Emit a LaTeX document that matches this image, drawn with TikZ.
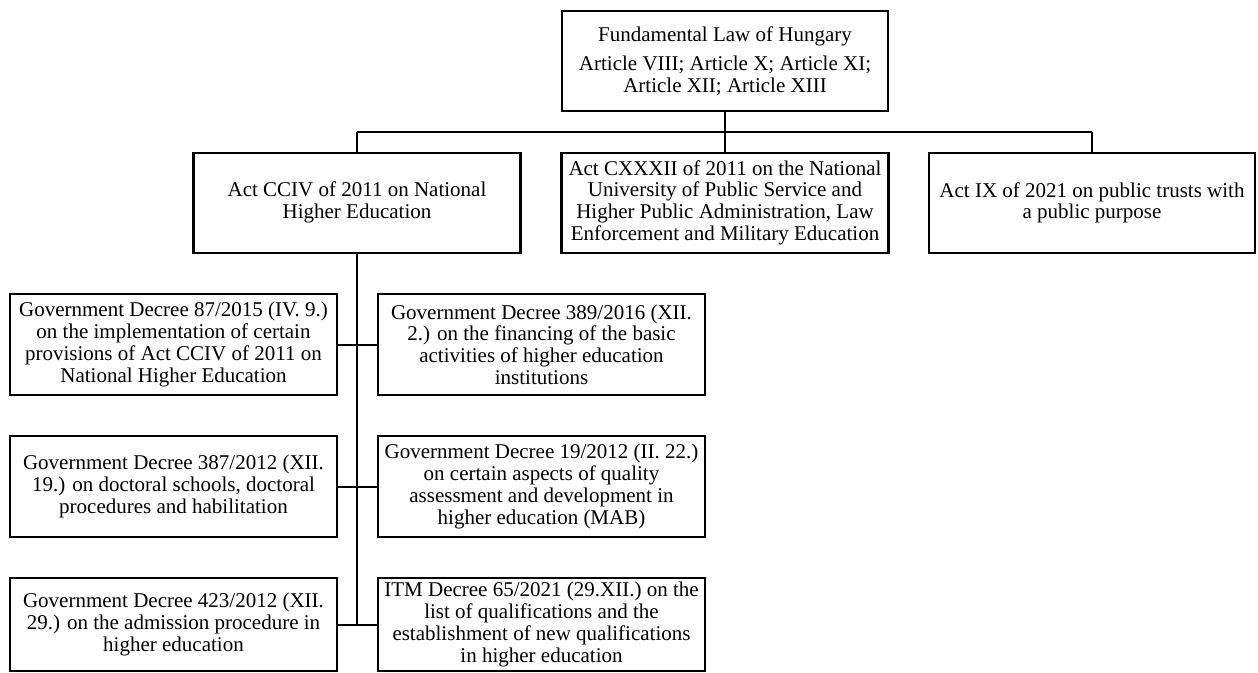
\documentclass[tikz,border=0pt]{standalone}
\usepackage{fontspec}
\setmainfont{Liberation Serif}
\begin{document}
\begin{tikzpicture}[x=1pt,y=-1pt,
  lawbox/.style={draw=black, line width=2.2pt, fill=white, align=center,
    inner sep=0pt, minimum width=327pt, minimum height=100pt,
    font=\fontsize{21}{21.7}\selectfont},
  link/.style={draw=black, line width=2pt}]
\useasboundingbox (0,0) rectangle (1258,672);

% top of the hierarchy
\node[lawbox, minimum width=326pt] (top) at (725,61)
  {Fundamental Law of Hungary\\[8pt]
   Article VIII; Article X; Article XI;\\
   Article XII; Article XIII};

% acts
\node[lawbox] (b1) at (357,202.7)
  {Act CCIV of 2011 on National\\ Higher Education};
\node[lawbox] (b2) at (725,202.7)
  {Act CXXXII of 2011 on the National\\
   University of Public Service and\\
   Higher Public Administration, Law\\
   Enforcement and Military Education};
\node[lawbox, minimum width=326pt] (b3) at (1092,202.7)
  {Act IX of 2021 on public trusts with\\ a public purpose};

% decrees
\node[lawbox, minimum height=101pt] (l1) at (173.5,344.5)
  {Government Decree 87/2015 (IV. 9.)\\
   on the implementation of certain\\
   provisions of Act CCIV of 2011 on\\
   National Higher Education};
\node[lawbox, minimum height=101pt] (r1) at (541.5,344.5)
  {Government Decree 389/2016 (XII.\\
   2.) on the financing of the basic\\
   activities of higher education\\
   institutions};
\node[lawbox, minimum height=101pt] (l2) at (173.5,486.5)
  {Government Decree 387/2012 (XII.\\
   19.) on doctoral schools, doctoral\\
   procedures and habilitation};
\node[lawbox, minimum height=101pt] (r2) at (541.5,486.5)
  {Government Decree 19/2012 (II. 22.)\\
   on certain aspects of quality\\
   assessment and development in\\
   higher education (MAB)};
\node[lawbox, minimum height=93pt] (l3) at (173.5,624.5)
  {Government Decree 423/2012 (XII.\\
   29.) on the admission procedure in\\
   higher education};
\node[lawbox, minimum height=93pt] (r3) at (541.5,624.5)
  {ITM Decree 65/2021 (29.XII.) on the\\
   list of qualifications and the\\
   establishment of new qualifications\\
   in higher education};

% bus between the top box and the acts
\coordinate (busL) at (357,132);
\coordinate (busR) at (1092,132);
\draw[link] (busL) -- (busR);
\draw[link] (top.south) -- (top.south |- busL);
\draw[link] (busL) -- (b1.north);
\draw[link] (b2.north |- busL) -- (b2.north);
\draw[link] (busR) -- (b3.north);

% spine under the higher education act
\draw[link] (b1.south) -- (b1.south |- l3.east);
\draw[link] (l1.east) -- (r1.west);
\draw[link] (l2.east) -- (r2.west);
\draw[link] (l3.east) -- (r3.west);
\end{tikzpicture}
\end{document}
